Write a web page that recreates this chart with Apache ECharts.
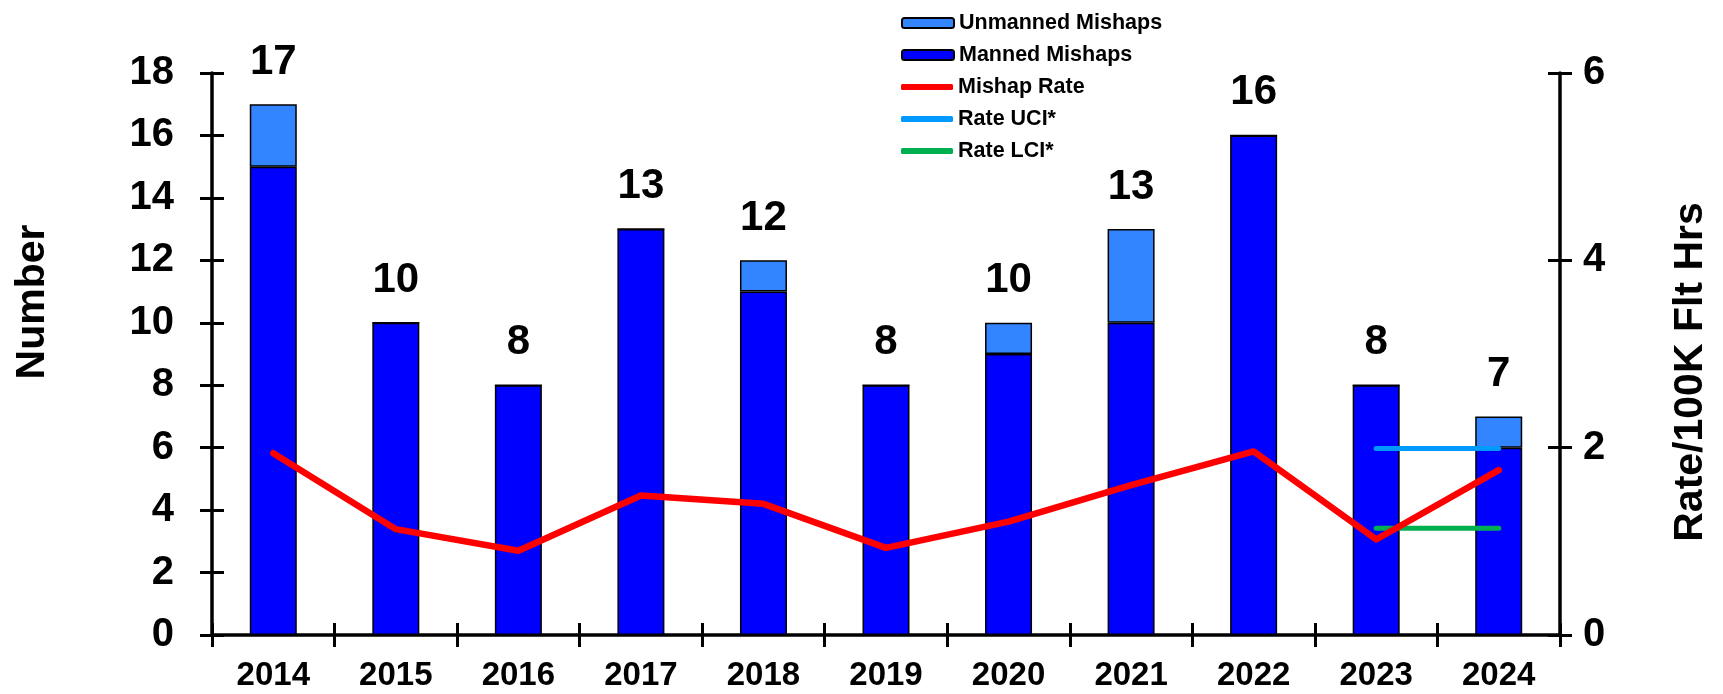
<!DOCTYPE html>
<html>
<head>
<meta charset="utf-8">
<script src="https://cdn.jsdelivr.net/npm/echarts@6/dist/echarts.min.js"></script>
<style>
html,body{margin:0;padding:0;background:#fff;}
#chart{width:1723px;height:694px;}
</style>
</head>
<body>
<div id="chart"></div>
<script>
const years = ['2014','2015','2016','2017','2018','2019','2020','2021','2022','2023','2024'];
const manned = [15, 10, 8, 13, 11, 8, 9, 10, 16, 8, 6];
const unmanned = [2, 0, 0, 0, 1, 0, 1, 3, 0, 0, 1];
const mishapRate = [1.94, 1.13, 0.90, 1.49, 1.40, 0.93, 1.21, 1.60, 1.96, 1.02, 1.76];
const rateUCI = [null, null, null, null, null, null, null, null, null, 1.99, 1.99];
const rateLCI = [null, null, null, null, null, null, null, null, null, 1.14, 1.14];
const leftTicks = {min: 0, max: 18, interval: 2};
const rightTicks = {min: 0, max: 6, interval: 2};

const FONT = '"Liberation Sans", Arial, sans-serif';
const chart = echarts.init(document.getElementById('chart'));

const axisLineStyle = {color: '#000', width: 3.5};
const grid = {left: 212, right: 163, top: 73, bottom: 59, containLabel: false};

const option = {
  backgroundColor: '#fff',
  animation: false,
  textStyle: {fontFamily: FONT},
  grid: grid,
  legend: [
    {
      orient: 'vertical', left: 896, top: 7,
      itemWidth: 52, itemHeight: 10, itemGap: 10,
      itemStyle: {borderColor: '#000', borderWidth: 2},
      textStyle: {fontFamily: FONT, fontWeight: 'bold', fontSize: 21.5, lineHeight: 22, color: '#000'},
      data: ['Unmanned Mishaps', 'Manned Mishaps']
    },
    {
      orient: 'vertical', left: 896, top: 71,
      itemWidth: 52, itemHeight: 6, itemGap: 10, icon: 'roundRect',
      textStyle: {fontFamily: FONT, fontWeight: 'bold', fontSize: 21.5, lineHeight: 22, color: '#000'},
      data: ['Mishap Rate', 'Rate UCI*', 'Rate LCI*']
    }
  ],
  xAxis: [
    {
      type: 'category', data: years, position: 'bottom',
      axisLine: {lineStyle: axisLineStyle},
      axisTick: {show: true, length: 12, lineStyle: {color: '#000', width: 3}},
      axisLabel: {color: '#000', fontFamily: FONT, fontWeight: 'bold', fontSize: 33, margin: 24}
    },
    {
      type: 'category', data: years, position: 'bottom',
      axisLine: {show: false},
      axisTick: {show: true, inside: true, length: 12, lineStyle: {color: '#000', width: 3}},
      axisLabel: {show: false}
    }
  ],
  yAxis: [
    {
      type: 'value', position: 'left', min: leftTicks.min, max: leftTicks.max, interval: leftTicks.interval,
      splitLine: {show: false},
      axisLine: {show: true, lineStyle: axisLineStyle},
      axisTick: {show: true, length: 12, lineStyle: {color: '#000', width: 3}},
      axisLabel: {color: '#000', fontFamily: FONT, fontWeight: 'bold', fontSize: 40, margin: 38}
    },
    {
      type: 'value', position: 'right', min: rightTicks.min, max: rightTicks.max, interval: rightTicks.interval,
      splitLine: {show: false},
      axisLine: {show: true, lineStyle: axisLineStyle},
      axisTick: {show: true, length: 12, lineStyle: {color: '#000', width: 3}},
      axisLabel: {color: '#000', fontFamily: FONT, fontWeight: 'bold', fontSize: 40, margin: 23}
    },
    {
      type: 'value', position: 'left', min: leftTicks.min, max: leftTicks.max, interval: leftTicks.interval,
      splitLine: {show: false}, axisLine: {show: false},
      axisTick: {show: true, inside: true, length: 12, lineStyle: {color: '#000', width: 3}},
      axisLabel: {show: false}
    },
    {
      type: 'value', position: 'right', min: rightTicks.min, max: rightTicks.max, interval: rightTicks.interval,
      splitLine: {show: false}, axisLine: {show: false},
      axisTick: {show: true, inside: true, length: 12, lineStyle: {color: '#000', width: 3}},
      axisLabel: {show: false}
    }
  ],
  graphic: [
    {
      type: 'text', x: 33, y: 302, rotation: Math.PI / 2,
      style: {text: 'Number', font: 'bold 41px ' + FONT, fill: '#000', textAlign: 'center', textVerticalAlign: 'middle'}
    },
    {
      type: 'text', x: 1691, y: 372, rotation: Math.PI / 2,
      style: {text: 'Rate/100K Flt Hrs', font: 'bold 41px ' + FONT, fill: '#000', textAlign: 'center', textVerticalAlign: 'middle'}
    }
  ],
  series: [
    {
      name: 'Manned Mishaps', type: 'bar', stack: 'total', yAxisIndex: 0, barWidth: 47,
      data: manned,
      itemStyle: {color: '#0000FF', borderColor: '#000', borderWidth: 1.5}
    },
    {
      name: 'Unmanned Mishaps', type: 'bar', stack: 'total', yAxisIndex: 0, barWidth: 47,
      data: unmanned,
      itemStyle: {color: '#3385FF', borderColor: '#000', borderWidth: 1.5},
      label: {
        show: true, position: 'top', distance: 21,
        fontFamily: FONT, fontWeight: 'bold', fontSize: 42, color: '#000',
        formatter: function (p) { return String(manned[p.dataIndex] + unmanned[p.dataIndex]); }
      }
    },
    {
      name: 'Rate UCI*', type: 'line', yAxisIndex: 1, data: rateUCI,
      symbol: 'none', connectNulls: false,
      lineStyle: {color: '#0099FF', width: 5, cap: 'round'},
      itemStyle: {color: '#0099FF'}
    },
    {
      name: 'Rate LCI*', type: 'line', yAxisIndex: 1, data: rateLCI,
      symbol: 'none', connectNulls: false,
      lineStyle: {color: '#00B050', width: 5, cap: 'round'},
      itemStyle: {color: '#00B050'}
    },
    {
      name: 'Mishap Rate', type: 'line', yAxisIndex: 1, data: mishapRate,
      symbol: 'none',
      lineStyle: {color: '#FF0000', width: 6.5, cap: 'round', join: 'round'},
      itemStyle: {color: '#FF0000'}
    }
  ]
};
chart.setOption(option);
</script>
</body>
</html>
